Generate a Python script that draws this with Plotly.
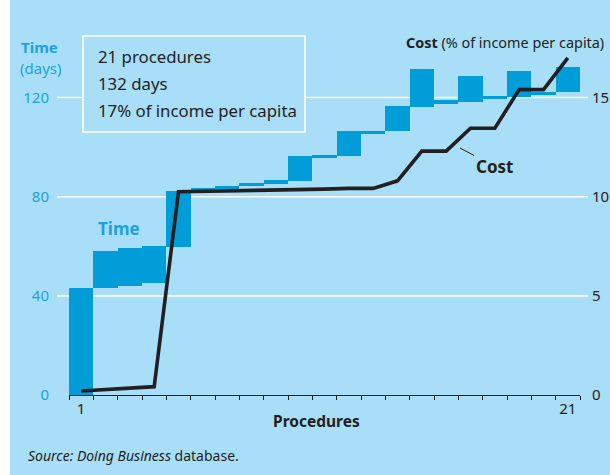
import plotly.graph_objects as go

# ---------------- data ----------------
procedures = list(range(1, 22))
time_start = [0, 43.3, 43.8, 45.0, 59.8, 82.5, 83.3, 84.3, 85.3, 86.3, 95.5,
              96.5, 105.3, 106.5, 116.3, 117.5, 118.3, 119.4, 120.3, 121.0, 122.3]
time_end = [43.3, 58.2, 59.2, 60.2, 82.3, 83.5, 84.5, 85.7, 86.6, 96.5, 96.7,
            106.5, 106.5, 116.5, 131.5, 118.8, 128.5, 120.7, 130.5, 122.3, 132.5]
cost_pct = [0.2, 0.27, 0.35, 0.42, 10.25, 10.27, 10.29, 10.3, 10.3, 10.35, 10.38,
            10.42, 10.42, 10.8, 12.3, 12.3, 13.45, 13.45, 15.4, 15.4, 17.0]
left_ticks = [0, 40, 80, 120]
right_ticks = [0, 5, 10, 15]
box_lines = ["21 procedures", "132 days", "17% of income per capita"]

# ---------------- styling ----------------
BG = "#A8DEF8"
BAR = "#009DD9"
CYAN = "#1CA3DE"
DARK = "#231F20"
FONT = "Noto Sans"

W, H = 610, 475
L, R, T, B = 69, 30, 40, 80
PW, PH = W - L - R, H - T - B
YMAX = PH / 2.479
Y2MAX = PH / 19.83


def xp(px):
    return (px - L) / PW


def yp(py):
    return (H - B - py) / PH


fig = go.Figure()

fig.add_trace(go.Bar(
    x=procedures,
    y=[e - s for s, e in zip(time_start, time_end)],
    base=time_start,
    width=1.0,
    marker=dict(color=BAR, line=dict(width=0)),
    hoverinfo="skip",
    showlegend=False,
))

fig.add_trace(go.Scatter(
    x=procedures, y=cost_pct, yaxis="y2", mode="lines",
    line=dict(color=DARK, width=3.6),
    hoverinfo="skip", showlegend=False,
))

shapes = []
# white left strip
shapes.append(dict(type="rect", xref="paper", yref="paper",
                   x0=xp(-2), x1=xp(10), y0=yp(H + 2), y1=yp(-2),
                   fillcolor="white", line=dict(width=0), layer="below"))
# gridlines (extend beyond plot area)
for v in left_ticks[1:]:
    shapes.append(dict(type="line", xref="paper", yref="y",
                       x0=xp(57), x1=xp(588), y0=v, y1=v,
                       line=dict(color="white", width=1.6), layer="below"))
# info box
shapes.append(dict(type="rect", xref="paper", yref="paper",
                   x0=xp(83), x1=xp(305), y0=yp(132), y1=yp(36),
                   line=dict(color="white", width=1.6), fillcolor=BG, layer="above"))

annotations = []


def note(text, x, y, size, color, xanchor="center"):
    annotations.append(dict(text=text, xref="paper", yref="paper",
                            x=xp(x), y=yp(y), xanchor=xanchor, yanchor="middle",
                            showarrow=False,
                            font=dict(family=FONT, size=size, color=color)))


# left axis title
note("<b>Time</b>", 39.5, 47, 15, CYAN)
note("(days)", 40.5, 68, 15, CYAN)
# right axis title
note("<b>Cost</b> (% of income per capita)", 404, 43, 14.4, DARK, xanchor="left")
# box text
for i, t in enumerate(box_lines):
    note(t, 96, 56.7 + 26.7 * i, 16.8, DARK, xanchor="left")
# series labels
note("<b>Time</b>", 119, 229, 17, CYAN)
annotations.append(dict(text="<b>Cost</b>", x=0.5 + (460 - L) / (PW / 21),
                        y=(H - B - 148) / 19.83, xref="x", yref="y2",
                        ax=34, ay=18, showarrow=True, arrowhead=0, arrowwidth=1,
                        arrowcolor=DARK, standoff=0,
                        font=dict(family=FONT, size=17, color=DARK)))
# x axis title
note("<b>Procedures</b>", 316, 421, 15.5, DARK)
# source
note("<i>Source: Doing Business</i> database.", 26, 455, 14, DARK, xanchor="left")

fig.update_layout(
    width=W, height=H,
    margin=dict(l=L, r=R, t=T, b=B, autoexpand=False),
    paper_bgcolor=BG, plot_bgcolor=BG,
    bargap=0,
    shapes=shapes,
    annotations=annotations,
    xaxis=dict(
        range=[0.5, 21.5], showgrid=False, zeroline=False, automargin=False,
        showline=True, linecolor=DARK, linewidth=1.3,
        tickvals=[1, 21], ticktext=["1", "21"], ticks="",
        tickfont=dict(family=FONT, size=15, color=DARK),
        minor=dict(tickvals=[v + 0.5 for v in [0] + procedures], ticks="outside",
                   ticklen=4, tickcolor=DARK, tickwidth=1.2, showgrid=False),
        fixedrange=True,
    ),
    yaxis=dict(
        range=[0, YMAX], showgrid=False, zeroline=False, showline=False,
        automargin=False,
        tickvals=left_ticks, ticks="", ticklabelstandoff=19,
        tickfont=dict(family=FONT, size=15, color=CYAN),
    ),
    yaxis2=dict(
        range=[0, Y2MAX], overlaying="y", side="right", showgrid=False,
        zeroline=False, showline=False, tickvals=right_ticks, ticks="",
        automargin=False, ticklabelstandoff=11,
        tickfont=dict(family=FONT, size=15, color=DARK),
    ),
)

fig.write_html(
    "out.html",
    config={"displayModeBar": False},
    post_script="document.body.style.margin='0';document.body.style.overflow='hidden';",
)
